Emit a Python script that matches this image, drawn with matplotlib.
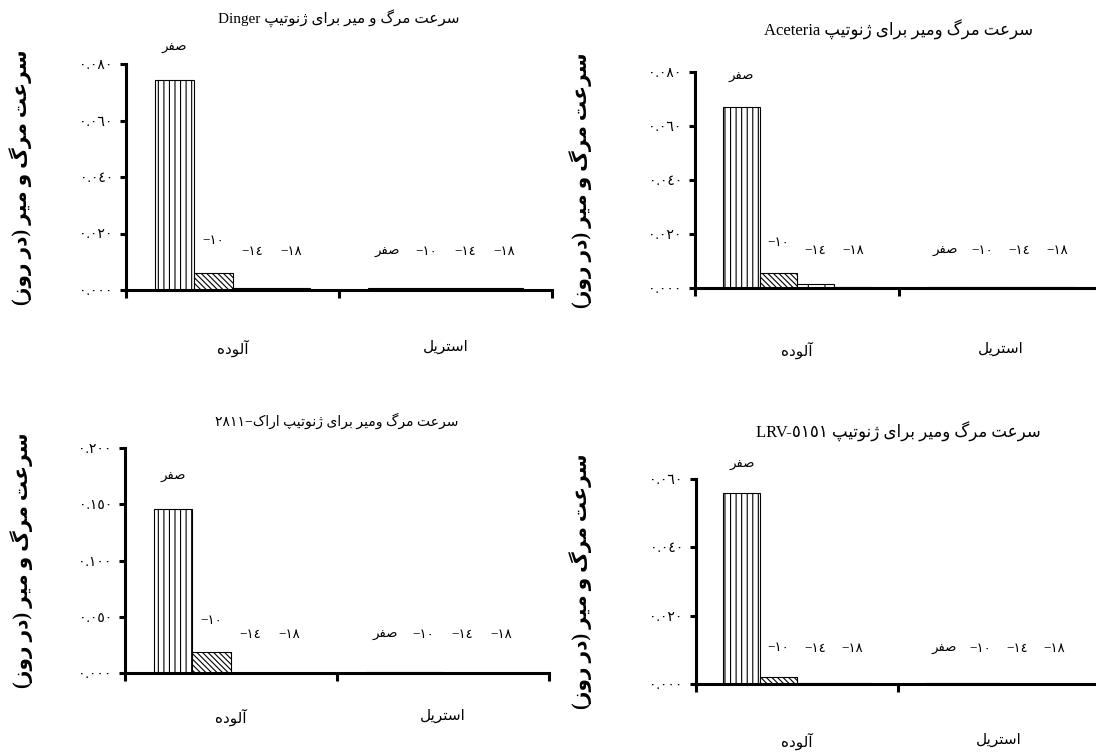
import numpy as np
import matplotlib
matplotlib.use('Agg')
import matplotlib.pyplot as plt

plt.rcParams['font.family'] = ['Liberation Serif', 'DejaVu Sans']
plt.rcParams['hatch.linewidth'] = 0.8

# data
groups = ['آلوده', 'استریل']
temps = ['صفر', '−١٠', '−١٤', '−١٨']

dinger_contaminated = [0.0743, 0.0060, 0.0007, 0.0007]
dinger_sterile = [0.0007, 0.0007, 0.0007, 0.0007]
aceteria_contaminated = [0.0671, 0.0054, 0.0016, 0.0005]
aceteria_sterile = [0.0004, 0.0004, 0.0004, 0.0004]
arak_contaminated = [0.146, 0.0185, 0.0, 0.0]
arak_sterile = [0.0008, 0.0008, 0.0, 0.0]
lrv_contaminated = [0.0558, 0.0021, 0.0003, 0.0003]
lrv_sterile = [0.0003, 0.0003, 0.0, 0.0]

dinger_ticks = [0.0, 0.02, 0.04, 0.06, 0.08]
aceteria_ticks = [0.0, 0.02, 0.04, 0.06, 0.08]
arak_ticks = [0.0, 0.05, 0.10, 0.15, 0.20]
lrv_ticks = [0.0, 0.02, 0.04, 0.06]

title_text = 'سرعت مرگ ومیر برای ژنوتیپ'
title_text_dinger = 'سرعت مرگ و میر برای ژنوتیپ'
ylabel_text = 'سرعت مرگ و میر (در روز)'

# minimal arabic shaping (matplotlib has no complex text layout)
FORMS = {
    'ا': ('\uFE8D', '\uFE8E'),
    'آ': ('\uFE81', '\uFE82'),
    'ب': ('\uFE8F', '\uFE90', '\uFE91', '\uFE92'),
    'پ': ('\uFB56', '\uFB57', '\uFB58', '\uFB59'),
    'ت': ('\uFE95', '\uFE96', '\uFE97', '\uFE98'),
    'د': ('\uFEA9', '\uFEAA'),
    'ر': ('\uFEAD', '\uFEAE'),
    'ز': ('\uFEAF', '\uFEB0'),
    'ژ': ('\uFB8A', '\uFB8B'),
    'س': ('\uFEB1', '\uFEB2', '\uFEB3', '\uFEB4'),
    'ص': ('\uFEB9', '\uFEBA', '\uFEBB', '\uFEBC'),
    'ع': ('\uFEC9', '\uFECA', '\uFECB', '\uFECC'),
    'ف': ('\uFED1', '\uFED2', '\uFED3', '\uFED4'),
    'ک': ('\uFB8E', '\uFB8F', '\uFB90', '\uFB91'),
    'گ': ('\uFB92', '\uFB93', '\uFB94', '\uFB95'),
    'ل': ('\uFEDD', '\uFEDE', '\uFEDF', '\uFEE0'),
    'م': ('\uFEE1', '\uFEE2', '\uFEE3', '\uFEE4'),
    'ن': ('\uFEE5', '\uFEE6', '\uFEE7', '\uFEE8'),
    'و': ('\uFEED', '\uFEEE'),
    'ه': ('\uFEE9', '\uFEEA', '\uFEEB', '\uFEEC'),
    'ی': ('\uFBFC', '\uFBFD', '\uFBFE', '\uFBFF'),
}


def fa(text):
    out = []
    for i, ch in enumerate(text):
        f = FORMS.get(ch)
        if f is None:
            out.append(ch)
            continue
        prev = text[i - 1] if i > 0 else ''
        nxt = text[i + 1] if i + 1 < len(text) else ''
        jp = prev in FORMS and len(FORMS[prev]) == 4
        jn = nxt in FORMS and len(f) == 4
        if jp and jn:
            out.append(f[3])
        elif jp:
            out.append(f[1])
        elif jn:
            out.append(f[2])
        else:
            out.append(f[0])
    s = ''.join(out)[::-1]
    return s.translate(str.maketrans('()', ')('))


def fa_digits(s):
    return s.translate(str.maketrans('0123456789', '٠١٢٣٤٥٦٧٨٩'))


panels = [
    dict(title='Dinger ' + fa(title_text_dinger), cont=dinger_contaminated,
         ster=dinger_sterile, ticks=dinger_ticks,
         rect=(126, 64, 552, 290), tpad=30, xpad=36, ylab=-94, tsize=11),
    dict(title='Aceteria ' + fa(title_text), cont=aceteria_contaminated,
         ster=aceteria_sterile, ticks=aceteria_ticks,
         rect=(695, 72, 1103, 288), tpad=26, xpad=39, ylab=-103, tsize=12),
    dict(title=fa_digits('2811') + '−' + fa(title_text + ' اراک'),
         cont=arak_contaminated, ster=arak_sterile, ticks=arak_ticks,
         rect=(125, 448, 549, 673), tpad=16, xpad=26, ylab=-92, tsize=10),
    dict(title='LRV-' + fa_digits('5151') + ' ' + fa(title_text),
         cont=lrv_contaminated, ster=lrv_sterile, ticks=lrv_ticks,
         rect=(696, 479, 1100, 684), tpad=30, xpad=35, ylab=-104, tsize=12),
]

hatches = ['|||', '\\\\\\\\\\\\', '|', '']
W, H = 1096, 753
fig = plt.figure(figsize=(W / 100, H / 100), dpi=100)

group_width = 0.73
bw = group_width / len(temps)

for p in panels:
    l, t, r, b = p['rect']
    ax = fig.add_axes([l / W, 1 - b / H, (r - l) / W, (b - t) / H])
    ymax = p['ticks'][-1]
    for g, vals in enumerate([p['cont'], p['ster']]):
        for i, v in enumerate(vals):
            x = g + 0.5 + (i - 1.5) * bw
            ax.bar(x, v, bw, color='white', edgecolor='black', linewidth=0.8,
                   hatch=hatches[i])
            lab = fa(temps[i]) if i == 0 else temps[i]
            ly = max(v + 0.14 * ymax, 0.17 * ymax)
            ax.text(x, ly, lab, ha='center', va='center', fontsize=9.5,
                    clip_on=False)
    ax.set_xlim(0, 2)
    ax.set_ylim(0, ymax)
    ax.set_yticks(p['ticks'])
    ax.set_yticklabels([fa_digits(f'{v:.3f}') for v in p['ticks']], fontsize=10)
    ax.set_xticks([0, 1, 2])
    ax.set_xticklabels([])
    ax.set_xticks([0.5, 1.5], minor=True)
    ax.set_xticklabels([fa(g) for g in groups], minor=True, fontsize=11)
    ax.tick_params(axis='x', which='minor', length=0, pad=p['xpad'])
    ax.tick_params(axis='x', which='major', length=6, width=2.2, direction='out')
    ax.tick_params(axis='y', length=4.5, width=2.2, direction='out', pad=5)
    for s in ['top', 'right']:
        ax.spines[s].set_visible(False)
    for s in ['left', 'bottom']:
        ax.spines[s].set_linewidth(2.2)
    ax.set_title(p['title'], fontsize=p['tsize'], pad=p['tpad'])
    ax.set_ylabel(fa(ylabel_text), fontsize=14.5, fontweight='bold')
    ax.yaxis.set_label_coords(p['ylab'] / (r - l), 0.5)

fig.savefig('out.png', dpi=100)
